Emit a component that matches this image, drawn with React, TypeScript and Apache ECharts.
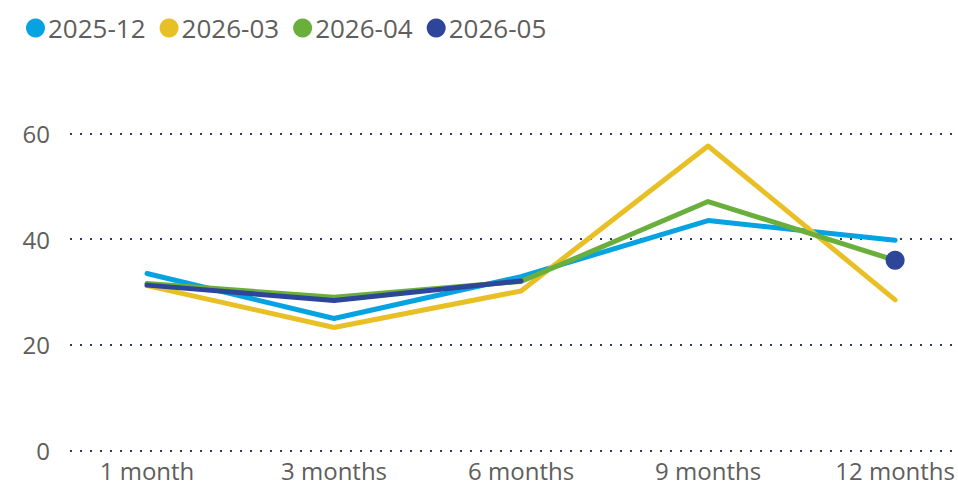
import React, { useEffect, useRef } from "react";
import * as echarts from "echarts";

const categories = ["1 month", "3 months", "6 months", "9 months", "12 months"];
const seriesNames = ["2025-12", "2026-03", "2026-04", "2026-05"];
const s202512 = [33.5, 25.0, 32.9, 43.5, 39.8];
const s202603 = [31.2, 23.3, 30.2, 57.6, 28.5];
const s202604 = [31.6, 29.0, 32.0, 47.1, 36.0];
const s202605: (number | null)[] = [31.3, 28.4, 32.1, null, 36.0];
const yTicks = { min: 0, max: 60, interval: 20 };

const colors = ["#05A3E2", "#E8C025", "#6AAF3B", "#2D4699"];
const FONT = '"Segoe UI", "Open Sans", sans-serif';
const TEXT = "#605E5C";

export default function App() {
  const ref = useRef<HTMLDivElement>(null);
  useEffect(() => {
    document.body.style.margin = "0";
    const chart = echarts.init(ref.current!, null, { renderer: "svg" });
    const lineSeries = (name: string, data: (number | null)[], idx: number) => ({
      name,
      type: "line",
      xAxisIndex: 1,
      yAxisIndex: 1,
      data,
      symbol: "none",
      showSymbol: false,
      lineStyle: { width: 5, color: colors[idx], cap: "round", join: "round" },
      itemStyle: { color: colors[idx] },
      z: 2 + idx,
    });
    const lastData = s202605.map((v, i) => {
      const isolated =
        v !== null &&
        (i === 0 || s202605[i - 1] === null) &&
        (i === s202605.length - 1 || s202605[i + 1] === null);
      return isolated ? { value: v, symbol: "circle", symbolSize: 19 } : v;
    });
    chart.setOption({
      animation: false,
      color: colors,
      textStyle: { fontFamily: FONT },
      legend: {
        data: seriesNames,
        top: 10,
        left: 21,
        icon: "circle",
        itemWidth: 19,
        itemHeight: 19,
        itemGap: 14,
        textStyle: { fontSize: 26, color: TEXT, fontFamily: FONT, padding: [0, 0, 0, -2] },
      },
      grid: [
        { left: 70, right: 3, top: 133.3, bottom: 37.3 },
        { left: 147, right: 62, top: 133.3, bottom: 37.3 },
      ],
      xAxis: [
        { type: "value", gridIndex: 0, show: false, min: 0, max: 1 },
        {
          type: "category",
          gridIndex: 1,
          data: categories,
          boundaryGap: false,
          axisLine: { show: false },
          axisTick: { show: false },
          axisLabel: { fontSize: 24, lineHeight: 24, color: TEXT, fontFamily: FONT, margin: 8 },
        },
      ],
      yAxis: [
        {
          type: "value",
          gridIndex: 0,
          ...yTicks,
          axisLine: { show: false },
          axisTick: { show: false },
          axisLabel: { fontSize: 24, color: TEXT, fontFamily: FONT, margin: 20 },
          splitLine: {
            show: true,
            lineStyle: { color: "#2A3A6E", width: 2, type: [2, 8] },
          },
        },
        { type: "value", gridIndex: 1, ...yTicks, show: false, splitLine: { show: false } },
      ],
      series: [
        lineSeries(seriesNames[0], s202512, 0),
        lineSeries(seriesNames[1], s202603, 1),
        lineSeries(seriesNames[2], s202604, 2),
        { ...lineSeries(seriesNames[3], lastData as any, 3), showSymbol: true },
      ],
    });
    return () => chart.dispose();
  }, []);
  return (
    <div
      ref={ref}
      style={{ position: "fixed", left: 0, top: 0, width: 958, height: 488, background: "#fff" }}
    />
  );
}
